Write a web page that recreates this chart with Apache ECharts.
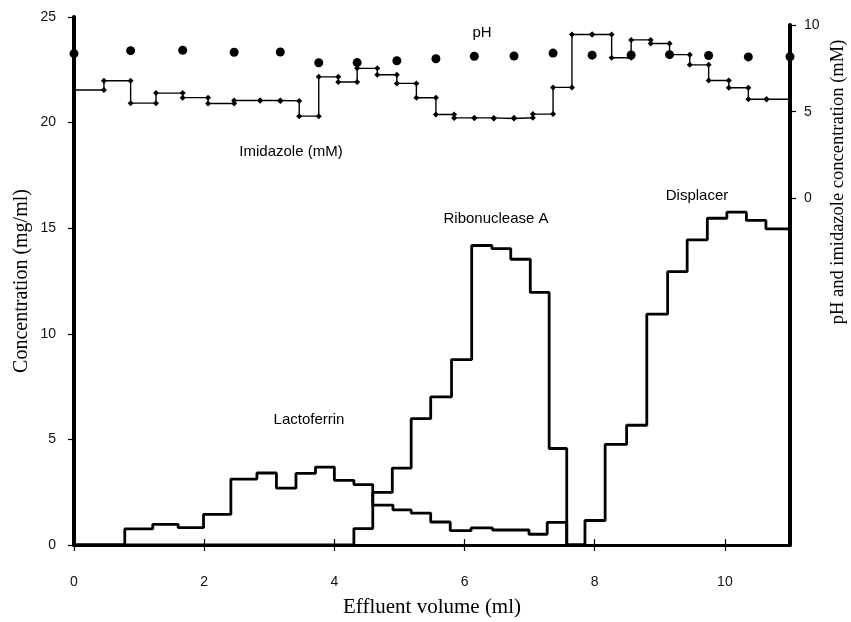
<!DOCTYPE html>
<html><head><meta charset="utf-8">
<script src="https://cdn.jsdelivr.net/npm/echarts@6/dist/echarts.min.js"></script>
<style>html,body{margin:0;padding:0;background:#fff}#chart{width:851px;height:622px}</style>
</head><body><div id="chart"></div>
<script>
// Protein fractions: effluent volume (ml) where each fraction starts and its concentration (mg/ml)
const lactoferrinVolume = [0, 0.78, 1.21, 1.60, 1.99, 2.41, 2.81, 3.11, 3.41, 3.71, 4.00, 4.30, 4.59, 4.90, 5.18, 5.48, 5.78, 6.10, 6.43, 6.99, 7.27, 7.57];
const lactoferrinConc   = [0, 0.76, 0.98, 0.82, 1.45, 3.12, 3.41, 2.69, 3.39, 3.69, 3.06, 2.86, 1.89, 1.66, 1.51, 1.09, 0.68, 0.81, 0.71, 0.51, 1.07, 0];
const ribonucleaseVolume = [0, 4.30, 4.59, 4.89, 5.18, 5.48, 5.80, 6.11, 6.42, 6.71, 7.01, 7.30, 7.57, 7.85];
const ribonucleaseConc   = [0, 0.78, 2.49, 3.64, 5.98, 7.01, 8.78, 14.18, 14.03, 13.53, 11.96, 4.57, 0, 0];
const displacerVolume = [7.57, 7.85, 8.16, 8.49, 8.80, 9.12, 9.42, 9.73, 10.03, 10.33, 10.63, 11.0];
const displacerConc   = [0, 1.16, 4.76, 5.67, 10.93, 12.94, 14.45, 15.47, 15.76, 15.37, 14.97, 14.97];

// Imidazole gradient (mM) measured per fraction, and pH readings
const imidazoleVolume = [0, 0.46, 0.87, 1.26, 1.67, 2.06, 2.46, 2.86, 3.17, 3.46, 3.76, 4.06, 4.35, 4.66, 4.96, 5.26, 5.56, 5.84, 6.15, 6.45, 6.76, 7.05, 7.36, 7.65, 7.96, 8.26, 8.56, 8.86, 9.15, 9.46, 9.75, 10.06, 10.36, 10.64, 11.0];
const imidazoleMM     = [6.25, 6.78, 5.49, 6.07, 5.81, 5.47, 5.64, 5.64, 5.62, 4.74, 7.01, 6.71, 7.50, 7.13, 6.63, 5.80, 4.84, 4.64, 4.64, 4.61, 4.65, 4.86, 6.40, 9.45, 9.45, 8.11, 9.14, 8.93, 8.29, 7.70, 6.80, 6.38, 5.72, 5.72, 5.72];
const phVolume = [0, 0.87, 1.67, 2.46, 3.17, 3.76, 4.35, 4.96, 5.56, 6.15, 6.76, 7.36, 7.96, 8.56, 9.15, 9.75, 10.36, 11.0];
const phValue  = [8.35, 8.52, 8.54, 8.43, 8.44, 7.82, 7.83, 7.94, 8.05, 8.20, 8.21, 8.38, 8.26, 8.27, 8.29, 8.24, 8.16, 8.17];

// Axis ticks
const volumeTicks = [0, 2, 4, 6, 8, 10];
const concTicks = [0, 5, 10, 15, 20, 25];
const rightTicks = [0, 5, 10];

const pairs = (xs, ys) => xs.map((x, i) => [x, ys[i]]);

// Gradient polyline with a diamond at both corners of every step
const imidazolePath = [];
imidazoleVolume.forEach((x, i) => {
  if (i === 0) { imidazolePath.push({ value: [x, imidazoleMM[0]], symbol: 'none' }); return; }
  const last = i === imidazoleVolume.length - 1;
  imidazolePath.push({ value: [x, imidazoleMM[i - 1]], symbol: last ? 'none' : 'diamond' });
  if (!last) imidazolePath.push({ value: [x, imidazoleMM[i]], symbol: 'diamond' });
});

const tickFont = { fontFamily: '"Liberation Sans Narrow", "Liberation Sans", Arial, sans-serif', fontSize: 14, color: '#111' };
const serif = '"Liberation Serif", "Times New Roman", serif';
const sans = '"Liberation Sans", Arial, sans-serif';

const chart = echarts.init(document.getElementById('chart'), null, { renderer: 'canvas' });
const histLine = { color: '#000', width: 2.8 };

function label(text, x, y, size, rot) {
  return {
    type: 'text', x, y, rotation: rot || 0,
    style: { text, fill: '#000', fontSize: size, fontFamily: rot ? serif : sans,
      align: 'center', verticalAlign: 'middle', textAlign: 'center', textVerticalAlign: 'middle' }
  };
}

chart.setOption({
  animation: false,
  backgroundColor: '#fff',
  grid: [
    { left: 74, right: 61, top: 17, bottom: 77, outerBoundsMode: 'none', containLabel: false },
    { left: 74, right: 61, top: 25, bottom: 77, outerBoundsMode: 'none', containLabel: false }
  ],
  xAxis: [
    {
      gridIndex: 0, type: 'value', min: 0, max: 11,
      name: 'Effluent volume (ml)', nameLocation: 'middle', nameGap: 52, nameMoveOverlap: false,
      nameTextStyle: { fontFamily: serif, fontSize: 21, color: '#000' },
      axisLine: { show: true, onZero: false, lineStyle: { color: '#000', width: 3 } },
      axisTick: { show: true, length: 6, lineStyle: { color: '#000', width: 1.2 }, customValues: volumeTicks },
      axisLabel: Object.assign({ margin: 30, customValues: volumeTicks }, tickFont),
      splitLine: { show: false }
    },
    {
      gridIndex: 1, type: 'value', min: 0, max: 11, position: 'bottom',
      axisLine: { show: false, onZero: false },
      axisTick: { show: true, inside: true, length: 6, lineStyle: { color: '#000', width: 1.2 }, customValues: volumeTicks },
      axisLabel: { show: false },
      splitLine: { show: false }
    }
  ],
  yAxis: [
    {
      gridIndex: 0, type: 'value', min: 0, max: 25, interval: 5,
      name: 'Concentration (mg/ml)', nameLocation: 'middle', nameGap: 42, nameRotate: 90, nameMoveOverlap: false,
      nameTextStyle: { fontFamily: serif, fontSize: 20, color: '#000' },
      axisLine: { show: true, onZero: false, lineStyle: { color: '#000', width: 4 } },
      axisTick: { show: true, length: 6, lineStyle: { color: '#000', width: 1.2 }, customValues: concTicks },
      axisLabel: Object.assign({ margin: 18, customValues: concTicks }, tickFont),
      splitLine: { show: false }
    },
    {
      gridIndex: 1, type: 'value', min: -20, max: 10, interval: 5, position: 'right',
      axisLine: { show: true, onZero: false, lineStyle: { color: '#000', width: 4 } },
      axisTick: { show: true, length: 6, lineStyle: { color: '#000', width: 1.2 }, customValues: rightTicks },
      axisLabel: Object.assign({ margin: 14, customValues: rightTicks }, tickFont),
      splitLine: { show: false }
    }
  ],
  graphic: [
    label('pH', 482, 33, 15),
    label('Imidazole (mM)', 291, 152, 15),
    label('Ribonuclease A', 496, 219, 15),
    label('Displacer', 697, 196, 15),
    label('Lactoferrin', 309, 420, 15),
    label('pH and imidazole concentration (mM)', 838, 182, 18.5, Math.PI / 2)
  ],
  series: [
    { name: 'Lactoferrin', type: 'line', step: 'end', xAxisIndex: 0, yAxisIndex: 0,
      data: pairs(lactoferrinVolume, lactoferrinConc), showSymbol: false, lineStyle: histLine, z: 3 },
    { name: 'Ribonuclease A', type: 'line', step: 'end', xAxisIndex: 0, yAxisIndex: 0,
      data: pairs(ribonucleaseVolume, ribonucleaseConc), showSymbol: false, lineStyle: histLine, z: 3 },
    { name: 'Displacer', type: 'line', step: 'end', xAxisIndex: 0, yAxisIndex: 0,
      data: pairs(displacerVolume, displacerConc), showSymbol: false, lineStyle: histLine, z: 3 },
    { name: 'Imidazole (mM)', type: 'line', xAxisIndex: 1, yAxisIndex: 1,
      data: imidazolePath, symbolSize: 6, showAllSymbol: true,
      itemStyle: { color: '#000' }, lineStyle: { color: '#000', width: 1.4 }, z: 4 },
    { name: 'pH', type: 'scatter', xAxisIndex: 1, yAxisIndex: 1, clip: false,
      data: pairs(phVolume, phValue), symbolSize: 9, itemStyle: { color: '#000', opacity: 1 }, z: 5 }
  ]
});
</script>
</body></html>
